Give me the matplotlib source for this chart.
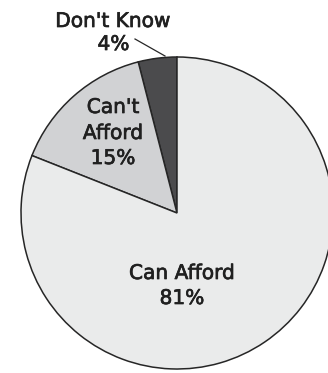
import matplotlib.pyplot as plt
import matplotlib.patheffects as pe

labels = ["Don't Know", "Can't Afford", "Can Afford"]
shares = [4, 15, 81]
colors = ["#4b4b4d", "#d1d2d4", "#eaebeb"]

W, H = 328, 373
CENTER = (177, H - 213)
RADIUS = 156


def main():
    fig = plt.figure(figsize=(W / 100, H / 100), dpi=100)
    ax = fig.add_axes([0, 0, 1, 1])

    ax.pie(shares, colors=colors, startangle=90, counterclock=True,
           center=CENTER, radius=RADIUS,
           wedgeprops=dict(edgecolor="#262626", linewidth=1.1))

    # pie() resets the limits, so work in pixel units afterwards
    ax.set_xlim(0, W)
    ax.set_ylim(0, H)
    ax.set_aspect("equal")
    ax.axis("off")

    # thicken the regular face a little
    heavier = [pe.withStroke(linewidth=0.5, foreground="#202020")]
    txt = dict(ha="center", va="baseline", fontsize=14.5, color="#202020",
               path_effects=heavier)

    # Don't Know sits outside with a leader line
    ax.text(113, H - 27, labels[0], **txt)
    ax.text(113.5, H - 50, f"{shares[0]}%", **txt)
    ax.plot([135, 165], [H - 39, H - 56], color="#262626", lw=0.9)

    ax.text(113, H - 113, "Can't", **txt)
    ax.text(113, H - 139, "Afford", **txt)
    ax.text(113, H - 164, f"{shares[1]}%", **txt)

    ax.text(182, H - 279, labels[2], **txt)
    ax.text(182, H - 304, f"{shares[2]}%", **txt)

    fig.savefig("out.png", dpi=100, facecolor="white")


if __name__ == "__main__":
    main()
